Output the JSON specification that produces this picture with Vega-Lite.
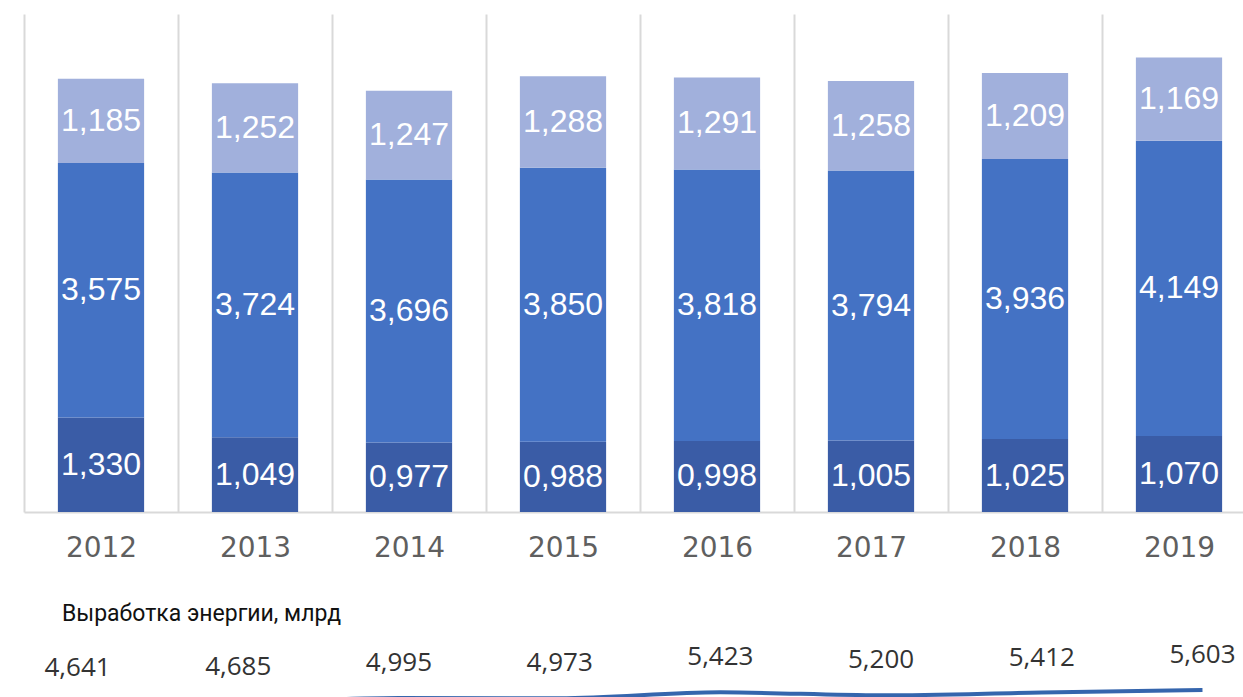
{
  "$schema": "https://vega.github.io/schema/vega-lite/v6.json",
  "background": "white",
  "padding": {"left": 24, "top": 14, "right": 0, "bottom": 0},
  "spacing": 40,
  "datasets": {
    "bars": [
      {"year": "2012", "part": "низ", "order": 1, "value": 1.330},
      {"year": "2012", "part": "середина", "order": 2, "value": 3.575},
      {"year": "2012", "part": "верх", "order": 3, "value": 1.185},
      {"year": "2013", "part": "низ", "order": 1, "value": 1.049},
      {"year": "2013", "part": "середина", "order": 2, "value": 3.724},
      {"year": "2013", "part": "верх", "order": 3, "value": 1.252},
      {"year": "2014", "part": "низ", "order": 1, "value": 0.977},
      {"year": "2014", "part": "середина", "order": 2, "value": 3.696},
      {"year": "2014", "part": "верх", "order": 3, "value": 1.247},
      {"year": "2015", "part": "низ", "order": 1, "value": 0.988},
      {"year": "2015", "part": "середина", "order": 2, "value": 3.850},
      {"year": "2015", "part": "верх", "order": 3, "value": 1.288},
      {"year": "2016", "part": "низ", "order": 1, "value": 0.998},
      {"year": "2016", "part": "середина", "order": 2, "value": 3.818},
      {"year": "2016", "part": "верх", "order": 3, "value": 1.291},
      {"year": "2017", "part": "низ", "order": 1, "value": 1.005},
      {"year": "2017", "part": "середина", "order": 2, "value": 3.794},
      {"year": "2017", "part": "верх", "order": 3, "value": 1.258},
      {"year": "2018", "part": "низ", "order": 1, "value": 1.025},
      {"year": "2018", "part": "середина", "order": 2, "value": 3.936},
      {"year": "2018", "part": "верх", "order": 3, "value": 1.209},
      {"year": "2019", "part": "низ", "order": 1, "value": 1.070},
      {"year": "2019", "part": "середина", "order": 2, "value": 4.149},
      {"year": "2019", "part": "верх", "order": 3, "value": 1.169}
    ],
    "energy": [
      {"year": "2012", "value": 4.641},
      {"year": "2013", "value": 4.685},
      {"year": "2014", "value": 4.995},
      {"year": "2015", "value": 4.973},
      {"year": "2016", "value": 5.423},
      {"year": "2017", "value": 5.200},
      {"year": "2018", "value": 5.412},
      {"year": "2019", "value": 5.603}
    ]
  },
  "vconcat": [
    {
      "width": 1232,
      "height": 498,
      "data": {"name": "bars"},
      "transform": [
        {"stack": "value", "groupby": ["year"], "sort": [{"field": "order", "order": "ascending"}], "as": ["v0", "v1"]},
        {"calculate": "(datum.v0 + datum.v1) / 2", "as": "mid"}
      ],
      "encoding": {
        "x": {
          "field": "year",
          "type": "ordinal",
          "scale": {"paddingInner": 0, "paddingOuter": 0},
          "axis": {
            "title": null,
            "labelAngle": 0,
            "labelFont": "DejaVu Sans",
            "labelFontSize": 28,
            "labelColor": "#5f5f5f",
            "labelPadding": 22,
            "ticks": false,
            "tickSize": 0,
            "domainColor": "#d9d9d9",
            "domainWidth": 2,
            "grid": true,
            "gridColor": "#d9d9d9",
            "gridWidth": 2,
            "tickBand": "extent"
          }
        }
      },
      "layer": [
        {
          "mark": {"type": "bar", "width": {"band": 0.56}},
          "encoding": {
            "y": {"field": "v0", "type": "quantitative", "scale": {"domain": [0, 7], "nice": false}, "axis": null},
            "y2": {"field": "v1"},
            "color": {
              "field": "part",
              "type": "nominal",
              "scale": {"domain": ["низ", "середина", "верх"], "range": ["#3a5ca6", "#4472c4", "#a1b0dc"]},
              "legend": null
            }
          }
        },
        {
          "mark": {"type": "text", "color": "white", "fontSize": 32, "font": "Liberation Sans"},
          "encoding": {
            "y": {"field": "mid", "type": "quantitative"},
            "text": {"field": "value", "type": "quantitative", "format": ".3f"}
          }
        }
      ]
    },
    {
      "width": 1232,
      "height": 80,
      "title": {
        "text": "Выработка энергии, млрд",
        "anchor": "start",
        "dx": 38,
        "fontSize": 23,
        "font": "Roboto",
        "fontWeight": "normal",
        "color": "#111111",
        "offset": 16
      },
      "data": {"name": "energy"},
      "encoding": {
        "x": {"field": "year", "type": "ordinal", "scale": {"type": "point", "padding": 0.333}, "axis": null},
        "y": {"field": "value", "type": "quantitative", "scale": {"domain": [3.2, 9.2], "nice": false, "zero": false}, "axis": null}
      },
      "layer": [
        {"mark": {"type": "line", "color": "#3565ad", "strokeWidth": 4, "interpolate": "monotone"}},
        {
          "mark": {"type": "text", "font": "Open Sans", "fontSize": 26, "color": "#333333", "dy": -35},
          "encoding": {"text": {"field": "value", "type": "quantitative", "format": ".3f"}}
        }
      ]
    }
  ],
  "config": {
    "view": {"stroke": null},
    "locale": {
      "number": {"decimal": ",", "thousands": " ", "grouping": [3], "currency": ["", ""]}
    }
  }
}
